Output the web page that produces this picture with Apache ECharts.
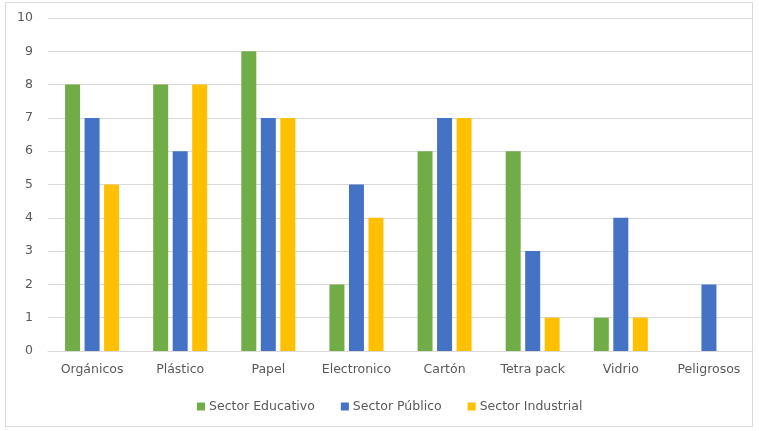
<!DOCTYPE html>
<html>
<head>
<meta charset="utf-8">
<script src="https://cdn.jsdelivr.net/npm/echarts@6/dist/echarts.min.js"></script>
<style>
html,body{margin:0;padding:0;background:#fff;}
#frame{position:absolute;left:5px;top:2px;width:748px;height:425px;border:1px solid #d9d9d9;box-sizing:border-box;}
#chart{position:absolute;left:0;top:0;width:759px;height:431px;}
</style>
</head>
<body>
<div id="frame"></div>
<div id="chart"></div>
<script>
const categories = ['Orgánicos','Plástico','Papel','Electronico','Cartón','Tetra pack','Vidrio','Peligrosos'];
const educativo = [8, 8, 9, 2, 6, 6, 1, 0];
const publico = [7, 6, 7, 5, 7, 3, 4, 2];
const industrial = [5, 8, 7, 4, 7, 1, 1, 0];
const seriesNames = ['Sector Educativo','Sector Público','Sector Industrial'];
const colors = ['#70AD47','#4472C4','#FFC000'];

const chart = echarts.init(document.getElementById('chart'));
const font = '"DejaVu Sans", sans-serif';
chart.setOption({
  animation: false,
  color: colors,
  grid: {left: 48, right: 6, top: 18, bottom: 80, containLabel: false},
  legend: {
    top: 395, left: 192,
    itemWidth: 8, itemHeight: 8, itemGap: 26,
    icon: 'rect',
    textStyle: {color: '#595959', fontSize: 12.5, fontFamily: font, padding: [0,0,0,-1]},
    data: seriesNames
  },
  xAxis: {
    type: 'category', data: categories,
    axisLine: {lineStyle: {color: '#d9d9d9'}},
    axisTick: {show: false},
    axisLabel: {color: '#595959', fontSize: 12.5, fontFamily: font, margin: 12, interval: 0}
  },
  yAxis: {
    type: 'value', min: 0, max: 10, interval: 1,
    axisLine: {show: false}, axisTick: {show: false},
    splitLine: {lineStyle: {color: '#d9d9d9'}},
    axisLabel: {color: '#595959', fontSize: 12.5, fontFamily: font, margin: 15}
  },
  series: [
    {name: seriesNames[0], type: 'bar', data: educativo, barWidth: 15, barGap: '30%'},
    {name: seriesNames[1], type: 'bar', data: publico, barWidth: 15, barGap: '30%'},
    {name: seriesNames[2], type: 'bar', data: industrial, barWidth: 15, barGap: '30%'}
  ]
});
</script>
</body>
</html>
